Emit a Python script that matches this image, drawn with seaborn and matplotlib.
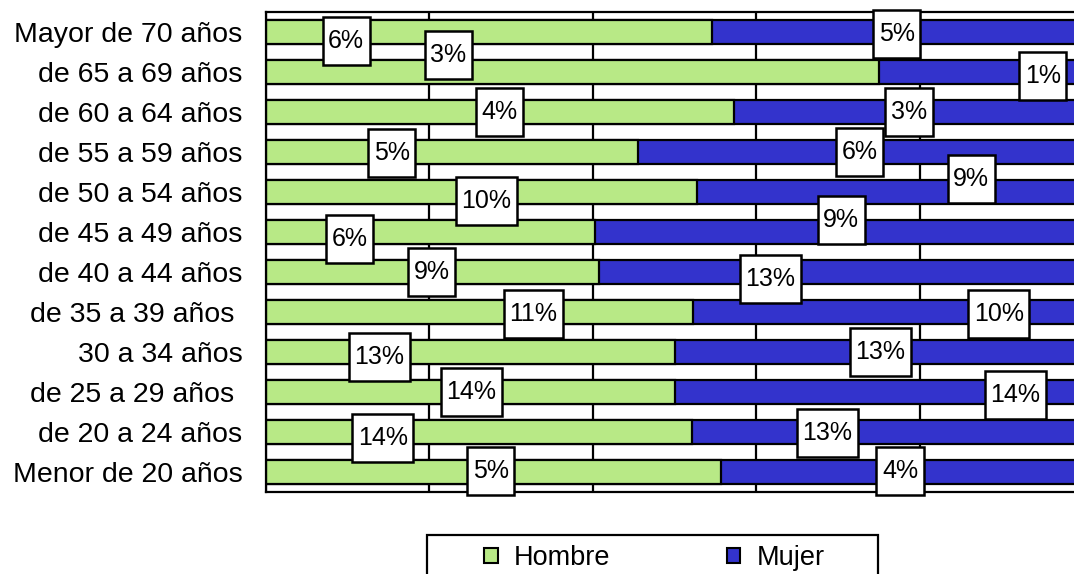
import matplotlib
matplotlib.use("Agg")
import pandas as pd
import matplotlib.pyplot as plt
import seaborn as sns
from matplotlib.patches import Patch, Rectangle
from matplotlib.path import Path

# age groups, top to bottom
categories = ["Mayor de 70 años", "de 65 a 69 años", "de 60 a 64 años", "de 55 a 59 años",
              "de 50 a 54 años", "de 45 a 49 años", "de 40 a 44 años", "de 35 a 39 años ",
              "30 a 34 años", "de 25 a 29 años ", "de 20 a 24 años", "Menor de 20 años"]

# share of men inside each age group (100% stacked bar, rest is women)
hombre_share = [0.546, 0.750, 0.573, 0.455, 0.527, 0.403, 0.408, 0.523, 0.501, 0.501, 0.521, 0.557]

# percentage labels (share of all men / all women)
hombre_pct = [6, 3, 4, 5, 10, 6, 9, 11, 13, 14, 14, 5]
mujer_pct = [5, 1, 3, 6, 9, 9, 13, 10, 13, 14, 13, 4]

# label boxes were dragged around by hand in the original
hombre_lab_x = [0.098, 0.223, 0.286, 0.154, 0.270, 0.102, 0.203, 0.327, 0.139, 0.251, 0.143, 0.275]
hombre_lab_dy = [0.22, -0.42, 0.0, 0.02, 0.22, 0.17, 0.0, 0.05, 0.12, 0.0, 0.15, -0.03]
mujer_lab_x = [0.772, 0.951, 0.787, 0.727, 0.863, 0.704, 0.617, 0.897, 0.752, 0.917, 0.687, 0.776]
mujer_lab_dy = [0.05, 0.10, 0.0, 0.0, -0.33, -0.30, 0.17, 0.05, 0.0, 0.07, 0.02, -0.03]

green = "#B8E986"
blue = "#3333CC"

sns.set_style("white")
plt.rcParams["font.family"] = ["Liberation Sans", "DejaVu Sans"]
plt.rcParams["text.color"] = "black"
plt.rcParams["ytick.labelcolor"] = "black"


def tall_box(x0, y0, width, height, mutation_size):
    # excel style label box: a bit narrow, quite tall
    px = 0.22 * mutation_size
    py = 0.49 * mutation_size
    x0, y0 = x0 - px, y0 - py
    x1, y1 = x0 + width + 2 * px, y0 + height + 2 * py
    return Path([(x0, y0), (x1, y0), (x1, y1), (x0, y1), (x0, y0)],
                [Path.MOVETO, Path.LINETO, Path.LINETO, Path.LINETO, Path.CLOSEPOLY])


df = pd.DataFrame({"grupo": categories, "hombre": hombre_share})
df["total"] = 1.0

fig = plt.figure(figsize=(10.74, 5.74), dpi=100)
ax = fig.add_axes([266 / 1074, 82 / 574, 817 / 1074, 480 / 574])

sns.barplot(data=df, x="total", y="grupo", orient="h", order=categories, color=blue,
            edgecolor="black", linewidth=1.6, width=0.58, saturation=1, ax=ax)
sns.barplot(data=df, x="hombre", y="grupo", orient="h", order=categories, color=green,
            edgecolor="black", linewidth=1.6, width=0.58, saturation=1, ax=ax)

ax.set_xlim(0, 1)
ax.set_ylim(len(categories) - 0.5, -0.5)
ax.set_xlabel("")
ax.set_ylabel("")

# vertical black gridlines behind the bars
ax.set_xticks([0, 0.2, 0.4, 0.6, 0.8, 1.0])
ax.set_xticklabels([])
ax.tick_params(axis="x", length=0)
ax.xaxis.grid(True, color="black", lw=1.6)
ax.set_axisbelow(True)

# category labels, with small ticks on the row boundaries
ax.tick_params(axis="y", which="major", length=0, pad=17, labelsize=20.5, labelcolor="black")
ax.set_yticks([i - 0.5 for i in range(len(categories) + 1)], minor=True)
ax.tick_params(axis="y", which="minor", length=6, width=1.5, color="black", direction="out")

for s in ax.spines.values():
    s.set_color("black")
    s.set_linewidth(1.6)

box = dict(boxstyle=tall_box, fc="white", ec="black", lw=1.8)
for i in range(len(categories)):
    ax.text(hombre_lab_x[i], i + hombre_lab_dy[i], f"{hombre_pct[i]}%", ha="center", va="center",
            fontsize=18, color="black", bbox=box, zorder=5)
    ax.text(mujer_lab_x[i], i + mujer_lab_dy[i], f"{mujer_pct[i]}%", ha="center", va="center",
            fontsize=18, color="black", bbox=box, zorder=5)

# legend: box is wider than its entries in the original
handles = [Patch(facecolor=green, edgecolor="black", lw=1.5, label="Hombre"),
           Patch(facecolor=blue, edgecolor="black", lw=1.5, label="Mujer")]
fig.legend(handles=handles, loc="upper left", bbox_to_anchor=(484 / 1074, 1 - 545 / 574),
           bbox_transform=fig.transFigure, ncol=2, frameon=False, fontsize=19.5,
           handlelength=0.5, handleheight=0.5, handletextpad=0.6, columnspacing=4.3,
           borderpad=0, borderaxespad=0, labelcolor="black")
fig.add_artist(Rectangle((427 / 1074, -0.1), 451 / 1074, 0.1 + 1 - 535 / 574,
                         transform=fig.transFigure, fill=False, ec="black", lw=1.6))

fig.savefig("out.png", dpi=100)
